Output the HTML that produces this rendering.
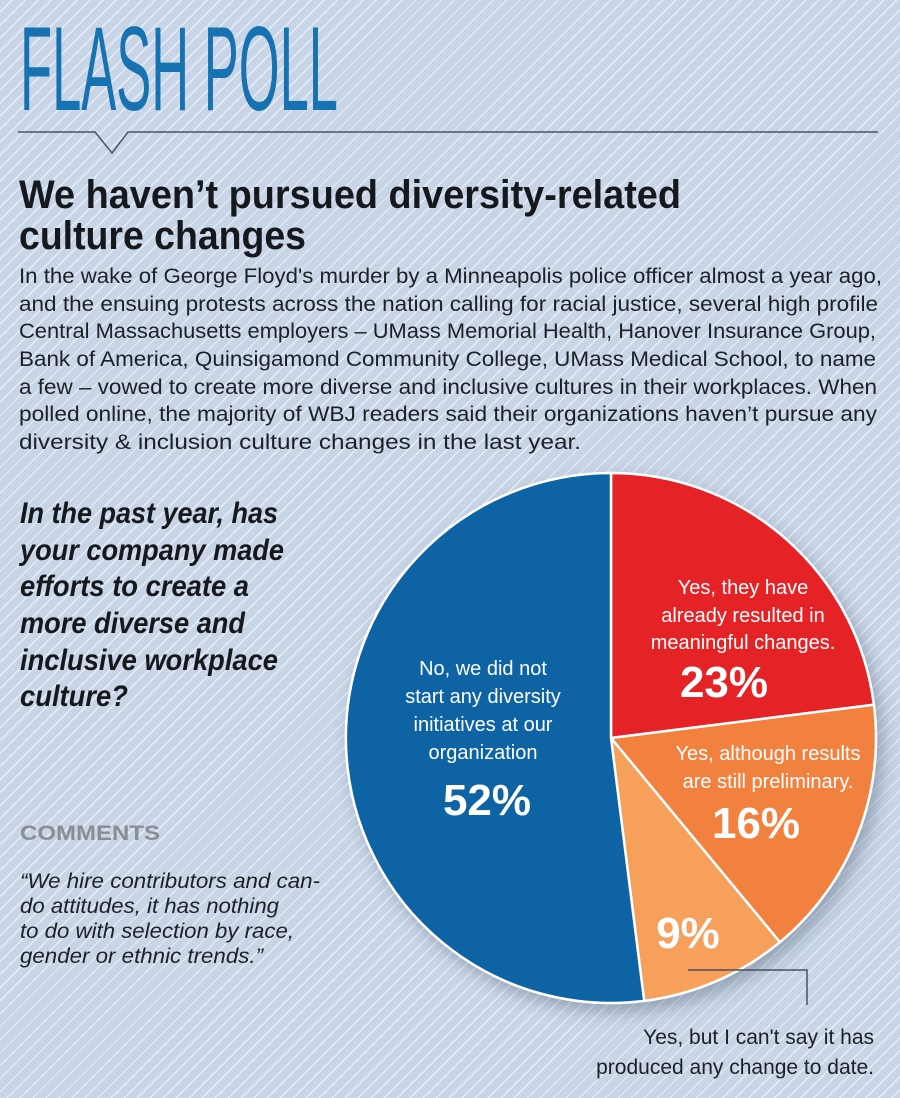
<!DOCTYPE html>
<html><head><meta charset="utf-8"><style>
html,body{margin:0;padding:0}
body{width:900px;height:1098px;overflow:hidden;background:#c8d5e7;background-image:repeating-linear-gradient(135deg,#c8d5e7 0px,#c8d5e7 7.9px,#e6edf6 7.9px,#e6edf6 9.2px);}
svg{position:absolute;left:0;top:0}
text{font-family:"Liberation Sans",Arial,sans-serif}
</style></head><body>
<svg width="900" height="1098" viewBox="0 0 900 1098">
<defs><filter id="sh" x="-20%" y="-20%" width="140%" height="140%"><feDropShadow dx="6" dy="8" stdDeviation="8" flood-color="#30405a" flood-opacity="0.35"/></filter></defs>
<text x="20" y="110" font-size="120" fill="#1672b0" textLength="318" lengthAdjust="spacingAndGlyphs">FLASH POLL</text>
<polyline points="18,132 95,132 112,153 128,132 878,132" fill="none" stroke="#4a5566" stroke-width="1.5"/>
<g font-weight="bold" font-size="40" fill="#15181d">
<text x="19" y="208" textLength="662" lengthAdjust="spacingAndGlyphs">We haven’t pursued diversity-related</text>
<text x="19" y="249" textLength="287" lengthAdjust="spacingAndGlyphs">culture changes</text>
</g>
<g font-size="21" fill="#1d2026">
<text x="19" y="283" textLength="863" lengthAdjust="spacingAndGlyphs">In the wake of George Floyd's murder by a Minneapolis police officer almost a year ago,</text>
<text x="19" y="311" textLength="859" lengthAdjust="spacingAndGlyphs">and the ensuing protests across the nation calling for racial justice, several high profile</text>
<text x="19" y="338" textLength="857" lengthAdjust="spacingAndGlyphs">Central Massachusetts employers – UMass Memorial Health, Hanover Insurance Group,</text>
<text x="19" y="366" textLength="857" lengthAdjust="spacingAndGlyphs">Bank of America, Quinsigamond Community College, UMass Medical School, to name</text>
<text x="19" y="394" textLength="858" lengthAdjust="spacingAndGlyphs">a few – vowed to create more diverse and inclusive cultures in their workplaces. When</text>
<text x="19" y="421" textLength="858" lengthAdjust="spacingAndGlyphs">polled online, the majority of WBJ readers said their organizations haven’t pursue any</text>
<text x="19" y="449" textLength="562" lengthAdjust="spacingAndGlyphs">diversity &amp; inclusion culture changes in the last year.</text>
</g>
<g font-size="30" font-weight="bold" font-style="italic" fill="#15181d">
<text x="20" y="523" textLength="258" lengthAdjust="spacingAndGlyphs">In the past year, has</text>
<text x="20" y="560" textLength="264" lengthAdjust="spacingAndGlyphs">your company made</text>
<text x="20" y="596" textLength="229" lengthAdjust="spacingAndGlyphs">efforts to create a</text>
<text x="20" y="633" textLength="225" lengthAdjust="spacingAndGlyphs">more diverse and</text>
<text x="20" y="670" textLength="258" lengthAdjust="spacingAndGlyphs">inclusive workplace</text>
<text x="20" y="706" textLength="108" lengthAdjust="spacingAndGlyphs">culture?</text>
</g>
<text x="20" y="840" font-size="21" font-weight="bold" fill="#8a8e94" textLength="140" lengthAdjust="spacingAndGlyphs">COMMENTS</text>
<g font-size="21" font-style="italic" fill="#1d2026">
<text x="20" y="888" textLength="300" lengthAdjust="spacingAndGlyphs">“We hire contributors and can-</text>
<text x="20" y="913" textLength="259" lengthAdjust="spacingAndGlyphs">do attitudes, it has nothing</text>
<text x="20" y="938" textLength="274" lengthAdjust="spacingAndGlyphs">to do with selection by race,</text>
<text x="20" y="963" textLength="243" lengthAdjust="spacingAndGlyphs">gender or ethnic trends.”</text>
</g>
<g transform="translate(611,738)" stroke="#fff" stroke-width="2.5" filter="url(#sh)">
<path d="M0,0 L0,-265 A265,265 0 0,1 262.9,-33.2 Z" fill="#e52128"/>
<path d="M0,0 L262.9,-33.2 A265,265 0 0,1 168.9,204.2 Z" fill="#f28141"/>
<path d="M0,0 L168.9,204.2 A265,265 0 0,1 33.2,262.9 Z" fill="#f6a05c"/>
<path d="M0,0 L33.2,262.9 A265,265 0 1,1 0,-265 Z" fill="#0b64a3"/>
</g>
<g fill="#fff" font-size="20" text-anchor="middle">
<text x="743" y="594">Yes, they have</text>
<text x="743" y="622">already resulted in</text>
<text x="743" y="649">meaningful changes.</text>
<text x="724" y="697" font-size="44" font-weight="bold">23%</text>
<text x="483" y="675">No, we did not</text>
<text x="483" y="703">start any diversity</text>
<text x="483" y="731">initiatives at our</text>
<text x="483" y="759">organization</text>
<text x="487" y="815" font-size="44" font-weight="bold">52%</text>
<text x="768" y="760">Yes, although results</text>
<text x="768" y="788">are still preliminary.</text>
<text x="756" y="838" font-size="44" font-weight="bold">16%</text>
<text x="688" y="948" font-size="44" font-weight="bold">9%</text>
</g>
<polyline points="688,970 807,970 807,1005" fill="none" stroke="#4a5060" stroke-width="1.5"/>
<g font-size="21" fill="#1d2026" text-anchor="end">
<text x="874" y="1044">Yes, but I can't say it has</text>
<text x="874" y="1074">produced any change to date.</text>
</g>
</svg>
</body></html>
